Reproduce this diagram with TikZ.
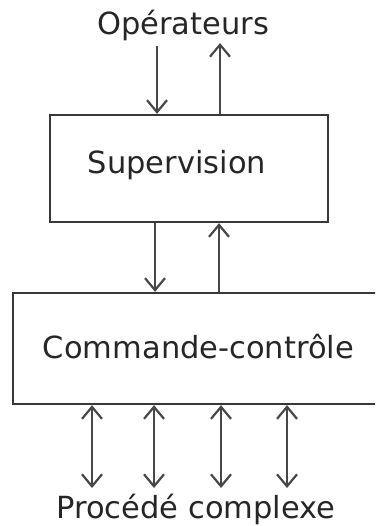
\documentclass[tikz,border=0pt]{standalone}
\usepackage{fontspec}
\setmainfont{DejaVu Sans}
\usetikzlibrary{arrows.meta}
\begin{document}
\begin{tikzpicture}[x=1pt,y=-1pt,
  box/.style={draw=black!78,line width=2.3pt,rectangle,inner sep=0pt},
  lbl/.style={anchor=base,inner sep=0pt,font=\fontsize{30.5}{36}\selectfont,text=black!85},
  tip/.tip={Straight Barb[length=12pt,width=20pt,line width=2.2pt]},
  conn/.style={draw=black!72,line width=2.3pt,-tip},
  dconn/.style={draw=black!72,line width=2.3pt,tip-tip}]
\useasboundingbox (0,0) rectangle (375,526);
\clip (0,0) rectangle (375,526);
\node[box,minimum width=278pt,minimum height=107pt] (sup) at (189,168.5) {};
\node[box,minimum width=400pt,minimum height=111pt] (cmd) at (213,348.5) {};
\node[lbl] (op) at (183,35) {Opérateurs};
\node[lbl] (suplbl) at (177,174) {Supervision};
\node[lbl] (cmdlbl) at (198.5,358) {Commande-contrôle};
\node[lbl] (proc) at (196,518) {Procédé complexe};
\coordinate (o1) at (157,46);
\coordinate (o2) at (220,43);
\coordinate (p1) at (92,488);
\coordinate (p2) at (154,488);
\coordinate (p3) at (221,488);
\coordinate (p4) at (287,488);
\draw[conn] (o1) -- (o1 |- sup.north);
\draw[conn] (o2 |- sup.north) -- (o2);
\draw[conn] (sup.south -| 155,0) -- (cmd.north -| 155,0);
\draw[conn] (cmd.north -| 219,0) -- (sup.south -| 219,0);
\draw[dconn] (p1 |- cmd.south) -- (p1);
\draw[dconn] (p2 |- cmd.south) -- (p2);
\draw[dconn] (p3 |- cmd.south) -- (p3);
\draw[dconn] (p4 |- cmd.south) -- (p4);
\end{tikzpicture}
\end{document}
